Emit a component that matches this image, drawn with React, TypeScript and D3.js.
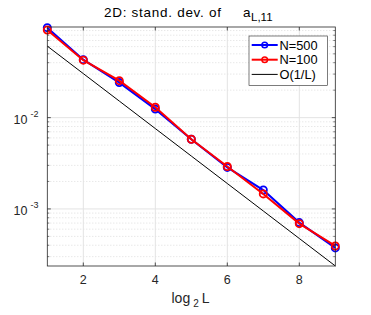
import React from "react";
import * as d3 from "d3";

const levels = [1, 2, 3, 4, 5, 6, 7, 8, 9];
const n500 = [0.0968, 0.0432, 0.0242, 0.0124, 0.0058, 0.00285, 0.00161, 0.000708, 0.000374];
const n100 = [0.0913, 0.0426, 0.0254, 0.0130, 0.0058, 0.00292, 0.00146, 0.00069, 0.000393];
const refC = 0.1215;
const refLine = levels.map((l) => refC * Math.pow(2, -l));
const xTicks = [2, 4, 6, 8];
const yMajor = [-2, -3];
const legendLabels = ["N=500", "N=100", "O(1/L)"];

const W = 371, H = 315;
const L = 47.3, R = 335.3, T = 27, B = 266;

export default function App() {
  const x = d3.scaleLinear().domain([1, 9]).range([L, R]);
  const y = d3.scaleLog().domain([2.37e-4, 0.0984]).range([B, T]);
  const line = d3.line<number>().x((_, i) => x(levels[i])).y((d) => y(d));
  const minor: number[] = [];
  for (let e = -4; e <= -1; e++) {
    for (let m = 2; m <= 9; m++) {
      const v = m * Math.pow(10, e);
      if (v >= 2.37e-4 && v <= 0.0984) minor.push(v);
    }
  }
  const axisColor = "#262626";
  const font = "Liberation Sans, Arial, Helvetica, sans-serif";
  const series = [
    { data: n500, color: "#0000ff" },
    { data: n100, color: "#ff0000" },
  ];
  return (
    <svg width={W} height={H} style={{ position: "absolute", left: 0, top: 0, background: "#fff" }} fontFamily={font}>
      <rect x={L} y={T} width={R - L} height={B - T} fill="#fff" />
      {minor.map((v, i) => (
        <line key={"mg" + i} x1={L} x2={R} y1={y(v)} y2={y(v)} stroke="#c8c8c8" strokeWidth={0.6} strokeDasharray="1,2" />
      ))}
      {yMajor.map((e) => (
        <line key={"yg" + e} x1={L} x2={R} y1={y(Math.pow(10, e))} y2={y(Math.pow(10, e))} stroke="#e3e3e3" strokeWidth={1} />
      ))}
      {xTicks.map((t) => (
        <line key={"xg" + t} x1={x(t)} x2={x(t)} y1={T} y2={B} stroke="#e3e3e3" strokeWidth={1} />
      ))}
      <path d={line(refLine) || ""} fill="none" stroke="#000" strokeWidth={1} />
      {series.map((s, si) => (
        <g key={"s" + si}>
          <path d={line(s.data) || ""} fill="none" stroke={s.color} strokeWidth={2} />
          {s.data.map((v, i) => (
            <circle key={i} cx={x(levels[i])} cy={y(v)} r={3.6} fill="none" stroke={s.color} strokeWidth={1.8} />
          ))}
        </g>
      ))}
      <rect x={L} y={T} width={R - L} height={B - T} fill="none" stroke={axisColor} strokeWidth={0.8} />
      {xTicks.map((t) => (
        <g key={"xt" + t}>
          <line x1={x(t)} x2={x(t)} y1={B} y2={B - 3.5} stroke={axisColor} strokeWidth={0.8} />
          <line x1={x(t)} x2={x(t)} y1={T} y2={T + 3.5} stroke={axisColor} strokeWidth={0.8} />
          <text x={x(t)} y={284} textAnchor="middle" fontSize={12.5} fill={axisColor}>{t}</text>
        </g>
      ))}
      {yMajor.map((e) => (
        <g key={"yt" + e}>
          <line x1={L} x2={L + 3.5} y1={y(Math.pow(10, e))} y2={y(Math.pow(10, e))} stroke={axisColor} strokeWidth={0.8} />
          <line x1={R} x2={R - 3.5} y1={y(Math.pow(10, e))} y2={y(Math.pow(10, e))} stroke={axisColor} strokeWidth={0.8} />
          <text x={13.5} y={y(Math.pow(10, e)) + 6} fontSize={12.5} fill={axisColor}>
            10<tspan dx={3} dy={-6.5} fontSize={9}>{e}</tspan>
          </text>
        </g>
      ))}
      {minor.map((v, i) => (
        <g key={"mt" + i}>
          <line x1={L} x2={L + 2} y1={y(v)} y2={y(v)} stroke={axisColor} strokeWidth={0.6} />
          <line x1={R} x2={R - 2} y1={y(v)} y2={y(v)} stroke={axisColor} strokeWidth={0.6} />
        </g>
      ))}
      <text x={171.5} y={303} fontSize={14} fill={axisColor}>
        log<tspan dx={3} dy={4} fontSize={10}>2</tspan><tspan dx={3} dy={-4}>L</tspan>
      </text>
      <text x={104} y={17} fontSize={13.5} fill="#000" textLength={117} lengthAdjust="spacing">2D: stand. dev. of</text>
      <text x={243} y={17} fontSize={13.5} fill="#000">
        a<tspan dx={0.5} dy={4} fontSize={11.5}>L,11</tspan>
      </text>
      <rect x={249} y={36} width={78.5} height={49.5} fill="#fff" stroke="#262626" strokeWidth={0.6} />
      {legendLabels.map((lab, i) => {
        const ly = 45 + i * 14.7;
        const color = i === 0 ? "#0000ff" : i === 1 ? "#ff0000" : "#000";
        return (
          <g key={"lg" + i}>
            <line x1={251.7} x2={277.7} y1={ly} y2={ly} stroke={color} strokeWidth={i < 2 ? 2 : 1} />
            {i < 2 && <circle cx={264.7} cy={ly} r={2.8} fill="none" stroke={color} strokeWidth={1.5} />}
            <text x={279.5} y={ly + 4.5} fontSize={12.8} fill="#000">{lab}</text>
          </g>
        );
      })}
    </svg>
  );
}
